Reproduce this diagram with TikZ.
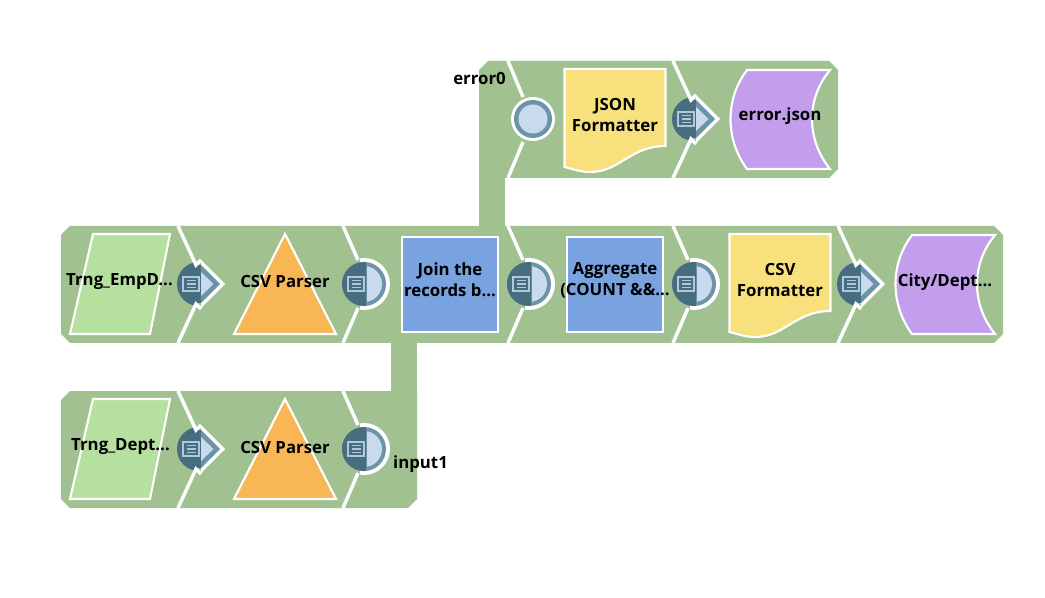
\documentclass[tikz,border=0pt]{standalone}
\usepackage{fontspec}
\setmainfont{Open Sans}
\usepackage{xcolor}
\definecolor{bandgreen}{RGB}{161, 193, 144}
\definecolor{readgreen}{RGB}{181, 224, 160}
\definecolor{parseorange}{RGB}{248, 182, 84}
\definecolor{joinblue}{RGB}{120, 162, 224}
\definecolor{formatyellow}{RGB}{248, 224, 124}
\definecolor{writepurple}{RGB}{194, 158, 236}
\definecolor{portdark}{RGB}{70, 110, 128}
\definecolor{portgrey}{RGB}{107, 148, 168}
\definecolor{portlight}{RGB}{201, 218, 236}
\tikzset{
	snapbody/.style={draw=white, line width=1.6pt, line join=miter},
	divider/.style={draw=white, line width=2.6pt, line join=miter},
	snaptext/.style={font=\bfseries\fontsize{12.6}{15.6}\selectfont, align=center, text=black, inner sep=0pt},
	docicon/.pic={
		\draw[draw=portlight!75!portgrey, line width=1.2pt] (-16,-7) rectangle (0,7);
		\draw[draw=portlight!75!portgrey, line width=0.8pt] (-12.5,-3.5) -- (-3.5,-3.5) (-12.5,0) -- (-3.5,0) (-12.5,3.5) -- (-3.5,3.5);
	},
	outport/.pic={
		\begin{scope}
			\clip (-30,-30) -- (-5,-30) -- (-3,-19) -- (2,-19) -- (2,19) -- (-3,19) -- (-5,30) -- (-30,30) -- cycle;
			\fill[portdark] (0,0) circle (22);
		\end{scope}
		\fill[white] (2,-24) -- (26,0) -- (2,24) -- cycle;
		\fill[portgrey] (2,-19) -- (21,0) -- (2,19) -- cycle;
		\fill[portlight] (2,-12) -- (14.5,0) -- (2,12) -- cycle;
		\draw[divider] (-21,-58) -- (-3,-19) -- (2,-24);
		\draw[divider] (-21,59) -- (-3,20) -- (2,25);
		\pic at (0,0) {docicon};
	},
	inport/.pic={
		\begin{scope}
			\clip (-4,-30) rectangle (30,30);
			\fill[white] (0,0) circle (26);
		\end{scope}
		\fill[portgrey] (0,0) circle (22);
		\begin{scope}
			\clip (-30,-30) rectangle (2,30);
			\fill[portdark] (0,0) circle (22);
		\end{scope}
		\begin{scope}
			\clip (3,-30) rectangle (30,30);
			\fill[portlight] (0,0) circle (18);
		\end{scope}
		\draw[divider] (-21,-58) -- (-6,-24);
		\draw[divider] (-21,59) -- (-6,24);
		\pic at (0,0) {docicon};
	},
	errport/.pic={
		\fill[white] (0,0) circle (22);
		\fill[portgrey] (0,0) circle (19);
		\fill[portlight] (0,0) circle (14.5);
		\draw[divider] (-25,-58) -- (-10,-22);
		\draw[divider] (-10,23) -- (-25,59);
	},
	reader/.pic={
		\draw[snapbody, fill=readgreen] (-27,-50) -- (50,-50) -- (30,50) -- (-50,50) -- cycle;
	},
	parser/.pic={
		\draw[snapbody, fill=parseorange] (0,-50) -- (51,50) -- (-51,50) -- cycle;
	},
	joiner/.pic={
		\draw[snapbody, fill=joinblue] (-48,-47) rectangle (48,48);
	},
	formatter/.pic={
		\draw[snapbody, fill=formatyellow] (-50.5,-50) -- (50.5,-50) -- (50.5,27) .. controls (15,27) and (5,53) .. (-25,53) .. controls (-35,53) and (-42,50) .. (-50.5,48) -- cycle;
	},
	writer/.pic={
		\draw[snapbody, fill=writepurple] (-33,-49) -- (50,-49) .. controls (26,-20) and (26,20) .. (50,50) -- (-33,50) .. controls (-55,20) and (-55,-20) .. (-33,-49) -- cycle;
	}
}

\begin{document}
\begin{tikzpicture}[x=0.75pt, y=-0.75pt]
	\useasboundingbox (0,0) rectangle (1045,598);

	% Bands
	\fill[bandgreen] (488,61) -- (829,61) -- (838,70) -- (838,169) -- (829,178) -- (479,178) -- (479,70) -- cycle;
	\fill[bandgreen] (70,226) -- (994,226) -- (1003,235) -- (1003,334) -- (994,343) -- (70,343) -- (61,334) -- (61,235) -- cycle;
	\fill[bandgreen] (70,391) -- (417,391) -- (417,499) -- (408,508) -- (70,508) -- (61,499) -- (61,400) -- cycle;

	% Links between bands
	\coordinate (errortop) at (479,170);
	\coordinate (errorbot) at (505,230);
	\coordinate (inputtop) at (391,340);
	\coordinate (inputbot) at (417,395);
	\fill[bandgreen] (errortop) rectangle (errorbot);
	\fill[bandgreen] (inputtop) rectangle (inputbot);

	% Top row
	\pic at (533,119) {errport};
	\pic at (615,119) {formatter};
	\pic at (694,119) {outport};
	\pic at (780,119) {writer};

	% Middle row
	\pic at (120,284) {reader};
	\pic at (199,284) {outport};
	\pic at (285,284) {parser};
	\pic at (364,284) {inport};
	\pic at (450,284) {joiner};
	\pic at (529,284) {inport};
	\pic at (615,284) {joiner};
	\pic at (694,284) {inport};
	\pic at (780,284) {formatter};
	\pic at (859,284) {outport};
	\pic at (945,284) {writer};

	% Bottom row
	\pic at (120,449) {reader};
	\pic at (199,449) {outport};
	\pic at (285,449) {parser};
	\pic at (364,449) {inport};

	% Labels
	\node[snaptext] (errorlabel) at (479.5,78) {error0};
	\node[snaptext] (jsonfmt) at (615,115) {JSON\\Formatter};
	\node[snaptext] (errorjson) at (780,116) {error.json};
	\node[snaptext] (empread) at (119.5,282) {Trng\_EmpD...};
	\node[snaptext] (empparse) at (285,282) {CSV Parser};
	\node[snaptext] (joinsnap) at (450,280) {Join the\\records b...};
	\node[snaptext] (aggsnap) at (615,280) {Aggregate\\(COUNT \&\&...};
	\node[snaptext] (csvfmt) at (780,280) {CSV\\Formatter};
	\node[snaptext] (citywrite) at (945,282) {City/Dept...};
	\node[snaptext] (deptread) at (120.5,447) {Trng\_Dept...};
	\node[snaptext] (deptparse) at (285,447) {CSV Parser};
	\node[snaptext] (inputlabel) at (420.5,464) {input1};
\end{tikzpicture}
\end{document}
